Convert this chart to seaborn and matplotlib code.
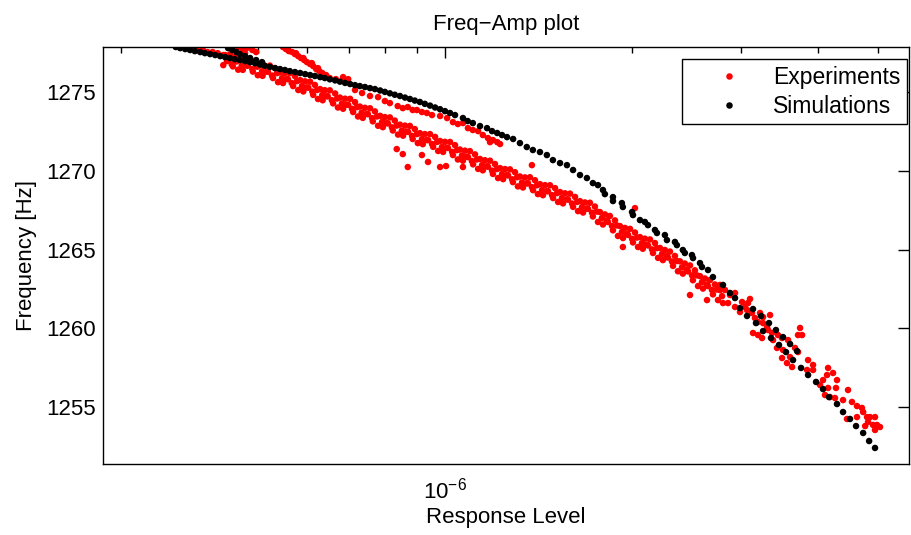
import pandas as pd
import matplotlib.pyplot as plt
import matplotlib.ticker as mticker
import seaborn as sns

# ---- data (response in units of 1e-6, frequency in Hz) ----

# simulations: main backbone curve
sim_main_resp = [
    0.368, 0.374, 0.381, 0.388, 0.395, 0.403, 0.410, 0.418, 0.426, 0.434,
    0.442, 0.450, 0.458, 0.467, 0.476, 0.485, 0.494, 0.503, 0.512, 0.522,
    0.532, 0.542, 0.552, 0.562, 0.573, 0.584, 0.595, 0.606, 0.617, 0.629,
    0.640, 0.652, 0.665, 0.677, 0.690, 0.703, 0.716, 0.729, 0.743, 0.757,
    0.771, 0.786, 0.800, 0.815, 0.830, 0.846, 0.862, 0.878, 0.894, 0.911,
    0.928, 0.946, 0.964, 0.982, 1.000, 1.019, 1.038,
    1.069, 1.088, 1.109, 1.139, 1.169, 1.191, 1.214, 1.236, 1.259, 1.288,
    1.321, 1.355, 1.386, 1.423, 1.460, 1.493, 1.533, 1.573, 1.609, 1.651,
    1.694, 1.732, 1.765,
    1.798, 1.811, 1.866, 1.866, 1.929, 1.936, 2.003, 2.010, 2.063, 2.101,
    2.125, 2.181, 2.197, 2.263, 2.280, 2.349, 2.366, 2.419, 2.437, 2.502,
    2.512, 2.578, 2.597, 2.656, 2.705, 2.808, 2.882, 2.936,
    2.991, 3.139, 3.070, 3.234, 3.174, 3.331, 3.258, 3.418, 3.356, 3.509,
    3.457, 3.602, 3.548, 3.697, 3.642, 3.752, 3.851, 3.967, 4.071, 4.163,
    4.288, 4.385, 4.500, 4.602, 4.725, 4.831, 4.938,
]
sim_main_freq = [
    1277.86, 1277.79, 1277.73, 1277.67, 1277.60, 1277.54, 1277.47, 1277.41, 1277.35, 1277.28,
    1277.22, 1277.16, 1277.09, 1277.03, 1276.97, 1276.90, 1276.83, 1276.75, 1276.67, 1276.60,
    1276.52, 1276.46, 1276.40, 1276.33, 1276.27, 1276.21, 1276.14, 1276.08, 1276.02, 1275.95,
    1275.89, 1275.81, 1275.74, 1275.66, 1275.58, 1275.51, 1275.44, 1275.38, 1275.32, 1275.25,
    1275.19, 1275.10, 1275.01, 1274.92, 1274.83, 1274.75, 1274.65, 1274.56, 1274.46, 1274.37,
    1274.25, 1274.14, 1274.02, 1273.91, 1273.79, 1273.67, 1273.54,
    1273.35, 1273.16, 1273.03, 1272.84, 1272.71, 1272.52, 1272.40, 1272.27, 1272.14, 1272.02,
    1271.76, 1271.51, 1271.32, 1271.19, 1271.00, 1270.68, 1270.49, 1270.36, 1270.05, 1269.73,
    1269.54, 1269.22, 1269.09,
    1268.78, 1268.52, 1268.33, 1268.08, 1267.95, 1267.70, 1267.38, 1267.19, 1266.87, 1266.75,
    1266.55, 1266.24, 1266.05, 1265.92, 1265.60, 1265.48, 1265.28, 1264.97, 1264.78, 1264.65,
    1264.46, 1264.14, 1263.89, 1263.70, 1263.25, 1262.75, 1262.24, 1261.92,
    1261.28, 1261.22, 1260.78, 1260.78, 1260.33, 1260.33, 1259.82, 1259.89, 1259.38, 1259.44,
    1258.94, 1259.00, 1258.49, 1258.55, 1257.98, 1257.48, 1257.03, 1256.59, 1256.14, 1255.63,
    1255.19, 1254.68, 1254.24, 1253.79, 1253.35, 1252.84, 1252.40,
]
# simulations: short second branch at the top left
sim_branch_resp = [0.447, 0.454, 0.461, 0.467, 0.476, 0.485, 0.496, 0.507]
sim_branch_freq = [1277.79, 1277.67, 1277.54, 1277.41, 1277.28, 1277.16, 1277.03, 1276.90]

# experiments: points hugging the simulation at the top left
exp_top_resp = [0.383, 0.390, 0.398, 0.407, 0.414, 0.422, 0.430, 0.439, 0.450, 0.458,
                0.455, 0.464, 0.471, 0.479, 0.489, 0.496, 0.476]
exp_top_freq = [1277.79, 1277.73, 1277.67, 1277.67, 1277.54, 1277.54, 1277.47, 1277.35, 1277.22, 1277.16,
                1277.79, 1277.86, 1277.73, 1277.79, 1277.67, 1277.54, 1277.47]

# experiments: arc crossing the simulation curve
exp_arc_resp = [0.548, 0.554, 0.560, 0.567, 0.573, 0.580, 0.586, 0.593, 0.599, 0.606,
                0.613, 0.620, 0.627, 0.634, 0.643, 0.652, 0.667, 0.685, 0.698,
                0.558, 0.575, 0.591, 0.610, 0.624]
exp_arc_freq = [1277.86, 1277.73, 1277.60, 1277.54, 1277.41, 1277.28, 1277.16, 1277.03, 1276.90, 1276.78,
                1276.65, 1276.46, 1276.33, 1276.21, 1276.08, 1275.89, 1275.82, 1275.95, 1275.82,
                1277.79, 1277.47, 1277.16, 1276.84, 1276.52]

# experiments: sparse trace between simulation and main band
exp_upper_resp = [0.716, 0.735, 0.757, 0.780, 0.800, 0.815, 0.839, 0.855, 0.871, 0.887,
                  0.901, 0.918, 0.935, 0.953, 0.982, 1.008, 1.030, 1.049, 1.069, 1.089,
                  1.109, 1.131, 1.151, 1.173, 1.182, 1.195, 1.214, 1.227, 1.381, 2.025]
exp_upper_freq = [1275.13, 1274.94, 1274.75, 1274.68, 1274.43, 1274.30, 1274.11, 1273.98, 1274.05, 1273.86,
                  1273.86, 1273.73, 1273.67, 1273.54, 1273.48, 1273.35, 1273.09, 1272.97, 1273.03, 1272.71,
                  1272.59, 1272.52, 1272.27, 1272.08, 1271.82, 1271.95, 1271.82, 1271.70, 1270.36, 1267.63]

# experiments: main dense band
exp_band_resp = [
    0.442, 0.445, 0.439, 0.450, 0.453, 0.447, 0.458, 0.461, 0.455, 0.467, 0.470, 0.464,
    0.476, 0.480, 0.472, 0.485, 0.489, 0.481, 0.494, 0.498, 0.490, 0.503, 0.507, 0.499,
    0.512, 0.516, 0.508, 0.522, 0.526, 0.518, 0.532, 0.536, 0.528, 0.542, 0.546, 0.538,
    0.552, 0.556, 0.548, 0.562, 0.566, 0.558, 0.573, 0.577, 0.569, 0.584, 0.588, 0.580,
    0.595, 0.599, 0.591, 0.606, 0.611, 0.602, 0.617, 0.622, 0.613, 0.629, 0.634, 0.624,
    0.640, 0.645, 0.635, 0.652, 0.657, 0.647, 0.665, 0.670, 0.660, 0.677, 0.682, 0.672,
    0.690, 0.695, 0.685, 0.703, 0.708, 0.698, 0.716, 0.721, 0.711, 0.729, 0.734, 0.724,
    0.743, 0.749, 0.737, 0.757, 0.763, 0.751, 0.771, 0.777, 0.765, 0.786, 0.792, 0.780,
    0.800, 0.806, 0.794, 0.815, 0.821, 0.809, 0.830, 0.836, 0.824, 0.846, 0.852, 0.840,
    0.862, 0.868, 0.856, 0.878, 0.885, 0.872, 0.894, 0.901, 0.887, 0.911, 0.918, 0.904,
    0.928, 0.935, 0.921, 0.946, 0.953, 0.939, 0.964, 0.971, 0.957, 0.982, 0.989, 0.975,
    1.000, 1.008, 0.993, 1.019, 1.027, 1.011, 1.038, 1.046, 1.030, 1.057, 1.065, 1.049,
    1.077, 1.085, 1.069, 1.097, 1.105, 1.089, 1.118, 1.126, 1.110, 1.139, 1.148, 1.131,
    1.160, 1.169, 1.151, 1.182, 1.191, 1.173, 1.204, 1.213, 1.195, 1.227, 1.236, 1.218,
    1.250, 1.259, 1.241, 1.273, 1.283, 1.264, 1.297, 1.307, 1.287, 1.321, 1.331, 1.311,
    1.346, 1.356, 1.336, 1.371, 1.381, 1.361, 1.397, 1.407, 1.387, 1.423, 1.434, 1.412,
    1.450, 1.461, 1.439, 1.477, 1.488, 1.466, 1.505, 1.516, 1.494, 1.533, 1.544, 1.522,
    1.562, 1.574, 1.550, 1.591, 1.603, 1.579, 1.621, 1.633, 1.609, 1.651, 1.663, 1.639,
    1.682, 1.695, 1.670, 1.713, 1.726, 1.700, 1.745, 1.758, 1.732, 1.778, 1.791, 1.765,
    1.811, 1.825, 1.798, 1.845, 1.859, 1.831, 1.880, 1.894, 1.866, 1.915, 1.929, 1.901,
    1.951, 1.966, 1.937, 1.988, 2.003, 1.973, 2.025, 2.040, 2.010, 2.063, 2.078, 2.048,
    2.101, 2.117, 2.085, 2.141, 2.157, 2.125, 2.181, 2.197, 2.165, 2.222, 2.239, 2.206,
    2.263, 2.280, 2.246, 2.306, 2.323, 2.289, 2.349, 2.367, 2.332, 2.393, 2.411, 2.375,
    2.437, 2.455, 2.419, 2.484, 2.503, 2.466, 2.530, 2.549, 2.511, 2.578, 2.597, 2.559,
    2.626, 2.646, 2.607, 2.675, 2.695, 2.655, 2.725, 2.745, 2.705, 2.777, 2.798, 2.756,
]
exp_band_freq = [
    1277.35, 1276.97, 1276.71, 1277.39, 1276.76, 1277.01, 1277.26, 1276.94, 1276.63, 1277.05, 1276.67, 1276.42,
    1277.05, 1276.67, 1276.41, 1277.09, 1276.46, 1276.71, 1276.93, 1276.61, 1276.30, 1276.70, 1276.32, 1276.07,
    1276.67, 1276.29, 1276.03, 1276.68, 1276.05, 1276.30, 1276.52, 1276.20, 1275.89, 1276.26, 1275.88, 1275.63,
    1276.21, 1275.83, 1275.57, 1276.20, 1275.57, 1275.82, 1276.01, 1275.69, 1275.38, 1275.76, 1275.38, 1275.13,
    1275.68, 1275.30, 1275.04, 1275.66, 1275.03, 1275.28, 1275.45, 1275.13, 1274.82, 1275.19, 1274.81, 1274.56,
    1275.12, 1274.74, 1274.48, 1275.11, 1274.48, 1274.73, 1274.91, 1274.59, 1274.28, 1274.65, 1274.27, 1274.02,
    1274.58, 1274.20, 1273.94, 1274.57, 1273.94, 1274.19, 1274.36, 1274.04, 1273.73, 1274.08, 1273.70, 1273.45,
    1274.00, 1273.62, 1273.36, 1273.97, 1273.34, 1273.59, 1273.77, 1273.45, 1273.14, 1273.49, 1273.11, 1272.86,
    1273.41, 1273.03, 1272.77, 1273.39, 1272.76, 1273.01, 1273.19, 1272.87, 1272.56, 1272.93, 1272.55, 1272.30,
    1272.87, 1272.49, 1272.23, 1272.85, 1272.22, 1272.47, 1272.65, 1272.33, 1272.02, 1272.39, 1272.01, 1271.76,
    1272.33, 1271.95, 1271.69, 1272.33, 1271.70, 1271.95, 1272.15, 1271.83, 1271.52, 1271.89, 1271.51, 1271.26,
    1271.84, 1271.46, 1271.20, 1271.83, 1271.20, 1271.45, 1271.63, 1271.31, 1271.00, 1271.35, 1270.97, 1270.72,
    1271.28, 1270.90, 1270.64, 1271.25, 1270.62, 1270.87, 1271.04, 1270.72, 1270.41, 1270.75, 1270.37, 1270.12,
    1270.67, 1270.29, 1270.03, 1270.64, 1270.01, 1270.26, 1270.43, 1270.11, 1269.80, 1270.17, 1269.79, 1269.54,
    1270.11, 1269.73, 1269.47, 1270.09, 1269.46, 1269.71, 1269.91, 1269.59, 1269.28, 1269.64, 1269.26, 1269.01,
    1269.58, 1269.20, 1268.94, 1269.59, 1268.96, 1269.21, 1269.40, 1269.08, 1268.77, 1269.15, 1268.77, 1268.52,
    1269.09, 1268.71, 1268.45, 1269.08, 1268.45, 1268.70, 1268.90, 1268.58, 1268.27, 1268.65, 1268.27, 1268.02,
    1268.57, 1268.19, 1267.93, 1268.55, 1267.92, 1268.17, 1268.34, 1268.02, 1267.71, 1268.07, 1267.69, 1267.44,
    1267.99, 1267.61, 1267.35, 1267.97, 1267.34, 1267.59, 1267.73, 1267.41, 1267.10, 1267.38, 1267.00, 1266.75,
    1267.23, 1266.85, 1266.59, 1267.13, 1266.50, 1266.75, 1266.85, 1266.53, 1266.22, 1266.49, 1266.11, 1265.86,
    1266.37, 1265.99, 1265.73, 1266.31, 1265.68, 1265.93, 1266.08, 1265.76, 1265.45, 1265.79, 1265.41, 1265.16,
    1265.69, 1265.31, 1265.05, 1265.64, 1265.01, 1265.26, 1265.41, 1265.09, 1264.78, 1265.10, 1264.72, 1264.47,
    1264.97, 1264.59, 1264.33, 1264.87, 1264.24, 1264.49, 1264.59, 1264.27, 1263.96, 1264.25, 1263.87, 1263.62,
    1264.11, 1263.73, 1263.47, 1263.99, 1263.36, 1263.61, 1263.68, 1263.36, 1263.05, 1263.31, 1262.93, 1262.68,
    1263.16, 1262.78, 1262.52, 1263.06, 1262.43, 1262.68, 1262.78, 1262.46, 1262.15, 1262.42, 1262.04, 1261.79,
]

# experiments: stray points below the band
exp_outlier_resp = [0.871, 0.918, 0.939, 0.982, 1.004, 1.069, 0.836, 0.855, 1.936, 2.484, 2.646]
exp_outlier_freq = [1270.24, 1271.00, 1270.56, 1270.24, 1270.30, 1270.24, 1271.38, 1271.06,
                    1265.16, 1262.11, 1261.79]

# experiments: scattered tail at high response
exp_tail_resp = [
    2.777, 2.829, 2.882, 2.936, 2.808, 2.861, 2.936, 3.014, 3.047, 3.104,
    3.081, 2.991, 3.070, 3.127, 3.162, 3.222, 3.258, 3.344, 3.198, 3.258,
    3.307, 3.139, 3.198, 3.246, 3.319, 3.369, 3.381, 3.444, 3.496, 3.431,
    3.509, 3.575, 3.496, 3.561, 3.629, 3.669, 3.710, 3.738, 3.766, 3.710,
    3.602, 3.851, 3.837, 3.923, 3.923, 4.026, 4.071, 4.132, 4.148, 4.225,
    4.288, 4.272, 4.148, 4.101, 4.178, 4.256, 4.467, 4.385, 4.533, 4.618,
    4.704, 4.725, 4.794, 4.848, 4.938, 4.618, 4.450, 4.812, 4.974, 5.030,
    4.760, 4.938, 4.902,
]
exp_tail_freq = [
    1262.75, 1262.43, 1262.11, 1262.24, 1261.60, 1261.60, 1261.35, 1261.67, 1261.35, 1261.86,
    1261.60, 1261.03, 1261.16, 1260.97, 1260.65, 1260.97, 1260.71, 1260.84, 1260.40, 1260.33,
    1260.08, 1259.70, 1259.57, 1259.38, 1259.89, 1259.70, 1259.25, 1259.57, 1259.38, 1258.75,
    1258.62, 1259.25, 1258.11, 1257.79, 1257.54, 1258.75, 1258.49, 1260.02, 1259.57, 1259.57,
    1258.17, 1257.98, 1257.35, 1257.67, 1257.35, 1256.40, 1256.71, 1257.03, 1257.48, 1257.16,
    1256.71, 1256.21, 1256.21, 1255.76, 1255.63, 1255.57, 1256.08, 1255.44, 1255.32, 1255.06,
    1254.94, 1254.68, 1254.36, 1254.36, 1254.36, 1254.36, 1254.24, 1254.05, 1253.86, 1253.73,
    1253.79, 1253.54, 1253.86,
]

ytick_values = [1255, 1260, 1265, 1270, 1275]
xtick_major = [1e-6]
xtick_minor = [3e-7, 4e-7, 5e-7, 6e-7, 7e-7, 8e-7, 9e-7, 2e-6, 3e-6, 4e-6, 5e-6]

# ---- build the table ----
exp_resp = exp_top_resp + exp_arc_resp + exp_upper_resp + exp_band_resp + exp_outlier_resp + exp_tail_resp
exp_freq = exp_top_freq + exp_arc_freq + exp_upper_freq + exp_band_freq + exp_outlier_freq + exp_tail_freq
sim_resp = sim_main_resp + sim_branch_resp
sim_freq = sim_main_freq + sim_branch_freq

df = pd.DataFrame({
    'Response Level': [v * 1e-6 for v in exp_resp + sim_resp],
    'Frequency': exp_freq + sim_freq,
    'Data': ['Experiments'] * len(exp_resp) + ['Simulations'] * len(sim_resp),
})

# ---- plot ----
sns.set_theme(style='white')
plt.rcParams['font.family'] = ['Liberation Sans', 'DejaVu Sans']
plt.rcParams.update({
    'axes.edgecolor': 'black', 'axes.linewidth': 1.0,
    'text.color': 'black', 'axes.labelcolor': 'black',
    'xtick.color': 'black', 'ytick.color': 'black',
})

fig, ax = plt.subplots(figsize=(9.11, 5.35), dpi=100)
fig.subplots_adjust(left=0.1131, right=0.9978, bottom=0.1327, top=0.9121)

sns.scatterplot(
    data=df, x='Response Level', y='Frequency', hue='Data',
    palette={'Experiments': 'red', 'Simulations': 'black'},
    s=22, linewidth=0, ax=ax,
)

ax.set_xscale('log')
ax.set_xlim(2.809e-7, 5.602e-6)
ax.set_ylim(1251.38, 1277.86)

ax.set_xticks(xtick_major)
ax.set_xticks(xtick_minor, minor=True)
ax.xaxis.set_minor_formatter(mticker.NullFormatter())
ax.set_yticks(ytick_values, labels=[str(v) for v in ytick_values])

ax.tick_params(which='both', direction='in', top=True, right=True, colors='black')
ax.tick_params(which='major', length=8, width=1, labelsize=16)
ax.tick_params(which='minor', length=4, width=1)
ax.tick_params(axis='y', pad=5.5)
ax.tick_params(axis='x', pad=10)

ax.set_title('Freq\u2212Amp plot', fontsize=16, pad=12.5)
ax.set_xlabel('Response Level', fontsize=16, labelpad=2)
ax.set_ylabel('Frequency [Hz]', fontsize=16, labelpad=6.5)

handles, labels = ax.get_legend_handles_labels()
leg = ax.legend(
    handles, labels, loc='upper right',
    bbox_to_anchor=(907 / 911, 1 - 59 / 535), bbox_transform=fig.transFigure,
    borderaxespad=0, fontsize=16.5, frameon=True, fancybox=False,
    edgecolor='black', framealpha=1, borderpad=0.3, labelspacing=0.25,
    handlelength=3.58, handletextpad=0.1, markerscale=1.0,
)
leg.get_frame().set_linewidth(1.0)

for side in ['top', 'right', 'bottom', 'left']:
    ax.spines[side].set_visible(True)
    ax.spines[side].set_color('black')

fig.savefig('out.png', dpi=100)
